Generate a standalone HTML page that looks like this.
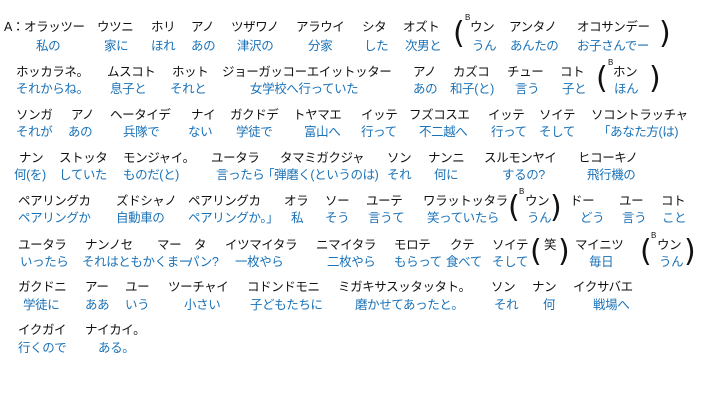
<!DOCTYPE html>
<html><head><meta charset="utf-8"><style>
html,body{margin:0;padding:0;background:#fff;}
body{width:706px;height:402px;position:relative;overflow:hidden;font-family:"Liberation Sans","Noto Sans CJK JP",sans-serif;}
span{position:absolute;white-space:nowrap;font-size:12.5px;line-height:14px;letter-spacing:-0.4px;}
.k{color:#111;}
.g{color:#1a72b8;}
.p{font-size:30px;line-height:30px;color:#111;font-family:"DejaVu Sans",sans-serif;}
.b{font-size:8px;line-height:8px;color:#111;}
</style></head><body>
<!-- row1 -->
<span class="k" style="left:4px;top:20px">A：オラッツー</span>
<span class="k" style="left:97px;top:20px">ウツニ</span>
<span class="k" style="left:151px;top:20px">ホリ</span>
<span class="k" style="left:191px;top:20px">アノ</span>
<span class="k" style="left:231px;top:20px">ツザワノ</span>
<span class="k" style="left:296px;top:20px">アラウイ</span>
<span class="k" style="left:362px;top:20px">シタ</span>
<span class="k" style="left:403px;top:20px">オズト</span>
<span class="p" style="left:453px;top:19px">(</span>
<span class="b" style="left:465px;top:14px">B</span>
<span class="k" style="left:470px;top:20px">ウン</span>
<span class="k" style="left:509px;top:20px">アンタノ</span>
<span class="k" style="left:577px;top:20px">オコサンデー</span>
<span class="p" style="left:659px;top:19px">)</span>
<span class="g" style="left:36px;top:39px">私の</span>
<span class="g" style="left:104px;top:39px">家に</span>
<span class="g" style="left:151px;top:39px">ほれ</span>
<span class="g" style="left:191px;top:39px">あの</span>
<span class="g" style="left:237px;top:39px">津沢の</span>
<span class="g" style="left:308px;top:39px">分家</span>
<span class="g" style="left:364px;top:39px">した</span>
<span class="g" style="left:405px;top:39px">次男と</span>
<span class="g" style="left:472px;top:39px">うん</span>
<span class="g" style="left:510px;top:39px">あんたの</span>
<span class="g" style="left:577px;top:39px">お子さんでー</span>
<!-- row2 -->
<span class="k" style="left:16px;top:65px">ホッカラネ。</span>
<span class="k" style="left:107px;top:65px">ムスコト</span>
<span class="k" style="left:172px;top:65px">ホット</span>
<span class="k" style="left:222px;top:65px">ジョーガッコーエイットッター</span>
<span class="k" style="left:413px;top:65px">アノ</span>
<span class="k" style="left:453px;top:65px">カズコ</span>
<span class="k" style="left:507px;top:65px">チュー</span>
<span class="k" style="left:560px;top:65px">コト</span>
<span class="p" style="left:596px;top:64px">(</span>
<span class="b" style="left:608px;top:59px">B</span>
<span class="k" style="left:613px;top:65px">ホン</span>
<span class="p" style="left:649px;top:64px">)</span>
<span class="g" style="left:16px;top:82px">それからね。</span>
<span class="g" style="left:110px;top:82px">息子と</span>
<span class="g" style="left:170px;top:82px">それと</span>
<span class="g" style="left:250px;top:82px">女学校へ行っていた</span>
<span class="g" style="left:413px;top:82px">あの</span>
<span class="g" style="left:450px;top:82px">和子(と)</span>
<span class="g" style="left:515px;top:82px">言う</span>
<span class="g" style="left:562px;top:82px">子と</span>
<span class="g" style="left:614px;top:82px">ほん</span>
<!-- row3 -->
<span class="k" style="left:16px;top:108px">ソンガ</span>
<span class="k" style="left:71px;top:108px">アノ</span>
<span class="k" style="left:110px;top:108px">ヘータイデ</span>
<span class="k" style="left:191px;top:108px">ナイ</span>
<span class="k" style="left:230px;top:108px">ガクドデ</span>
<span class="k" style="left:293px;top:108px">トヤマエ</span>
<span class="k" style="left:361px;top:108px">イッテ</span>
<span class="k" style="left:409px;top:108px">フズコスエ</span>
<span class="k" style="left:488px;top:108px">イッテ</span>
<span class="k" style="left:539px;top:108px">ソイテ</span>
<span class="k" style="left:591px;top:108px">ソコントラッチャ</span>
<span class="g" style="left:16px;top:125px">それが</span>
<span class="g" style="left:68px;top:125px">あの</span>
<span class="g" style="left:123px;top:125px">兵隊で</span>
<span class="g" style="left:188px;top:125px">ない</span>
<span class="g" style="left:236px;top:125px">学徒で</span>
<span class="g" style="left:304px;top:125px">富山へ</span>
<span class="g" style="left:361px;top:125px">行って</span>
<span class="g" style="left:419px;top:125px">不二越へ</span>
<span class="g" style="left:491px;top:125px">行って</span>
<span class="g" style="left:539px;top:125px">そして</span>
<span class="g" style="left:598px;top:125px">「あなた方(は)</span>
<!-- row4 -->
<span class="k" style="left:19px;top:151px">ナン</span>
<span class="k" style="left:59px;top:151px">ストッタ</span>
<span class="k" style="left:123px;top:151px">モンジャイ。</span>
<span class="k" style="left:211px;top:151px">ユータラ</span>
<span class="k" style="left:280px;top:151px">タマミガクジャ</span>
<span class="k" style="left:387px;top:151px">ソン</span>
<span class="k" style="left:428px;top:151px">ナンニ</span>
<span class="k" style="left:484px;top:151px">スルモンヤイ</span>
<span class="k" style="left:578px;top:151px">ヒコーキノ</span>
<span class="g" style="left:14px;top:168px">何(を)</span>
<span class="g" style="left:59px;top:168px">していた</span>
<span class="g" style="left:123px;top:168px">ものだ(と)</span>
<span class="g" style="left:216px;top:168px">言ったら</span>
<span class="g" style="left:262px;top:168px">「弾磨く(というのは)</span>
<span class="g" style="left:387px;top:168px">それ</span>
<span class="g" style="left:434px;top:168px">何に</span>
<span class="g" style="left:502px;top:168px">するの?</span>
<span class="g" style="left:587px;top:168px">飛行機の</span>
<!-- row5 -->
<span class="k" style="left:18px;top:194px">ペアリングカ</span>
<span class="k" style="left:116px;top:194px">ズドシャノ</span>
<span class="k" style="left:188px;top:194px">ペアリングカ</span>
<span class="k" style="left:284px;top:194px">オラ</span>
<span class="k" style="left:325px;top:194px">ソー</span>
<span class="k" style="left:366px;top:194px">ユーテ</span>
<span class="k" style="left:423px;top:194px">ワラットッタラ</span>
<span class="p" style="left:508px;top:193px">(</span>
<span class="b" style="left:519px;top:188px">B</span>
<span class="k" style="left:525px;top:194px">ウン</span>
<span class="p" style="left:550px;top:193px">)</span>
<span class="k" style="left:570px;top:194px">ドー</span>
<span class="k" style="left:619px;top:194px">ユー</span>
<span class="k" style="left:661px;top:194px">コト</span>
<span class="g" style="left:18px;top:211px">ペアリングか</span>
<span class="g" style="left:116px;top:211px">自動車の</span>
<span class="g" style="left:188px;top:211px">ペアリングか。」</span>
<span class="g" style="left:291px;top:211px">私</span>
<span class="g" style="left:325px;top:211px">そう</span>
<span class="g" style="left:368px;top:211px">言うて</span>
<span class="g" style="left:427px;top:211px">笑っていたら</span>
<span class="g" style="left:527px;top:211px">うん</span>
<span class="g" style="left:580px;top:211px">どう</span>
<span class="g" style="left:622px;top:211px">言う</span>
<span class="g" style="left:662px;top:211px">こと</span>
<!-- row6 -->
<span class="k" style="left:18px;top:238px">ユータラ</span>
<span class="k" style="left:85px;top:238px">ナンノセ</span>
<span class="k" style="left:157px;top:238px">マー</span>
<span class="k" style="left:194px;top:238px">タ</span>
<span class="k" style="left:225px;top:238px">イツマイタラ</span>
<span class="k" style="left:316px;top:238px">ニマイタラ</span>
<span class="k" style="left:394px;top:238px">モロテ</span>
<span class="k" style="left:450px;top:238px">クテ</span>
<span class="k" style="left:492px;top:238px">ソイテ</span>
<span class="p" style="left:530px;top:237px">(</span>
<span class="k" style="left:544px;top:238px">笑</span>
<span class="p" style="left:558px;top:237px">)</span>
<span class="k" style="left:575px;top:238px">マイニツ</span>
<span class="p" style="left:640px;top:237px">(</span>
<span class="b" style="left:651px;top:232px">B</span>
<span class="k" style="left:657px;top:238px">ウン</span>
<span class="p" style="left:684px;top:237px">)</span>
<span class="g" style="left:20px;top:255px">いったら</span>
<span class="g" style="left:82px;top:255px">それはともかくまー</span>
<span class="g" style="left:187px;top:255px">パン?</span>
<span class="g" style="left:235px;top:255px">一枚やら</span>
<span class="g" style="left:327px;top:255px">二枚やら</span>
<span class="g" style="left:394px;top:255px">もらって</span>
<span class="g" style="left:446px;top:255px">食べて</span>
<span class="g" style="left:492px;top:255px">そして</span>
<span class="g" style="left:589px;top:255px">毎日</span>
<span class="g" style="left:659px;top:255px">うん</span>
<!-- row7 -->
<span class="k" style="left:18px;top:280px">ガクドニ</span>
<span class="k" style="left:85px;top:280px">アー</span>
<span class="k" style="left:125px;top:280px">ユー</span>
<span class="k" style="left:168px;top:280px">ツーチャイ</span>
<span class="k" style="left:247px;top:280px">コドンドモニ</span>
<span class="k" style="left:338px;top:280px">ミガキサスッタッタト。</span>
<span class="k" style="left:491px;top:280px">ソン</span>
<span class="k" style="left:532px;top:280px">ナン</span>
<span class="k" style="left:573px;top:280px">イクサバエ</span>
<span class="g" style="left:23px;top:298px">学徒に</span>
<span class="g" style="left:85px;top:298px">ああ</span>
<span class="g" style="left:125px;top:298px">いう</span>
<span class="g" style="left:184px;top:298px">小さい</span>
<span class="g" style="left:250px;top:298px">子どもたちに</span>
<span class="g" style="left:355px;top:298px">磨かせてあったと。</span>
<span class="g" style="left:494px;top:298px">それ</span>
<span class="g" style="left:543px;top:298px">何</span>
<span class="g" style="left:593px;top:298px">戦場へ</span>
<!-- row8 -->
<span class="k" style="left:18px;top:323px">イクガイ</span>
<span class="k" style="left:85px;top:323px">ナイカイ。</span>
<span class="g" style="left:18px;top:341px">行くので</span>
<span class="g" style="left:98px;top:341px">ある。</span>
</body></html>
